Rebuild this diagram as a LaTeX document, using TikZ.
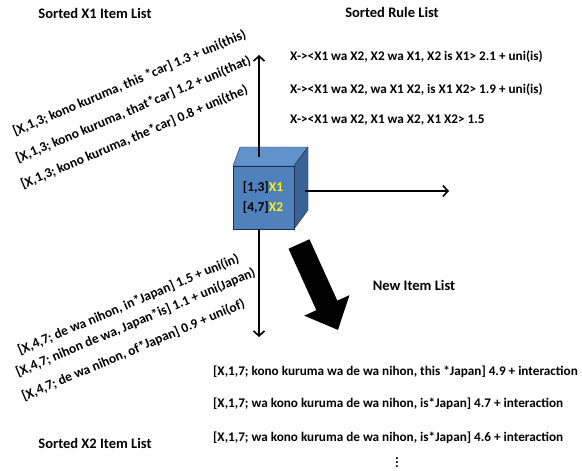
\documentclass[tikz,border=0pt]{standalone}
\usepackage{fontspec}
\setmainfont{Carlito}
\usetikzlibrary{arrows.meta}
\definecolor{cubefront}{RGB}{79,129,189}
\definecolor{cubetop}{RGB}{98,146,204}
\definecolor{cubeside}{RGB}{58,98,150}
\definecolor{cubeline}{RGB}{30,45,70}
\begin{document}
\begin{tikzpicture}[x=1pt, y=-1pt,
        heading/.style = {font=\bfseries\fontsize{14.5}{16}\selectfont},
        item/.style = {font=\bfseries\fontsize{13.2}{15}\selectfont, inner sep=0pt},
        axis/.style = {line width=1.6pt, -{Straight Barb[length=5pt, width=11pt, line width=1.6pt]}}]
                \useasboundingbox (0,0) rectangle (582,471);
                % the cube
                \draw[cubeline, fill = cubetop] (233,166) -- (240,147) -- (308,147) -- (294,166) -- cycle;
                \draw[cubeline, fill = cubeside] (294,166) -- (308,147) -- (308,210) -- (294,229) -- cycle;
                \draw[cubeline, fill = cubefront] (233,166) rectangle (294,229);
                \node[font=\bfseries\fontsize{13.5}{20}\selectfont, align=center] (cube) at (263,198)
                    {[1,3]{\color{yellow}X1}\\{[4,7]}{\color{yellow}X2}};
                % axes
                \coordinate (topface) at (259,157);
                \coordinate (bottomface) at (259,229);
                \coordinate (sideface) at (305,191);
                \coordinate (uptip) at (259,55);
                \coordinate (downtip) at (259,337);
                \coordinate (righttip) at (449,191);
                \draw[axis] (topface) -- (uptip);
                \draw[axis] (bottomface) -- (downtip);
                \draw[axis] (sideface) -- (righttip);
                \coordinate (bigtail) at (299,244);
                \coordinate (bigtip) at (338,330);
                \draw[line width=23pt, -{Triangle[length=27pt, width=48pt]}] (bigtail) -- (bigtip);
                % headings
                \node[heading] (xonehead) at (95,13) {Sorted X1 Item List};
                \node[heading] (rulehead) at (392,12) {Sorted Rule List};
                \node[heading] (newhead) at (414,285) {New Item List};
                \node[heading] (xtwohead) at (95,443) {Sorted X2 Item List};
                % X1 and X2 items
                \begin{scope}[every node/.style = {item, font=\bfseries\fontsize{13.5}{16}\selectfont, rotate=23, anchor=base west}]
                    \node (xone1) at (15,136) {[X,1,3; kono kuruma, this *car] 1.3 + uni(this)};
                    \node (xone2) at (18,163) {[X,1,3; kono kuruma, that*car] 1.2 + uni(that)};
                    \node (xone3) at (23,189) {[X,1,3; kono kuruma, the*car] 0.8 + uni(the)};
                    \node (xtwo1) at (20,355) {[X,4,7; de wa nihon, in*Japan] 1.5 + uni(in)};
                    \node (xtwo2) at (18,377) {[X,4,7; nihon de wa, Japan*is] 1.1 + uni(Japan)};
                    \node (xtwo3) at (24,401) {[X,4,7; de wa nihon, of*Japan] 0.9 + uni(of)};
                \end{scope}
                % rules
                \node[item, anchor=base west] (rule1) at (290,60) {X-><X1 wa X2, X2 wa X1, X2 is X1> 2.1 + uni(is)};
                \node[item, anchor=base west] (rule2) at (290,93) {X-><X1 wa X2, wa X1 X2, is X1 X2> 1.9 + uni(is)};
                \node[item, anchor=base west] (rule3) at (290,123) {X-><X1 wa X2, X1 wa X2, X1 X2> 1.5};
                % new items
                \node[item, anchor=base west] (new1) at (213,375) {[X,1,7; kono kuruma wa de wa nihon, this *Japan] 4.9 + interaction};
                \node[item, anchor=base west] (new2) at (213,407) {[X,1,7; wa kono kuruma de wa nihon, is*Japan] 4.7 + interaction};
                \node[item, anchor=base west] (new3) at (213,441) {[X,1,7; wa kono kuruma de wa nihon, is*Japan] 4.6 + interaction};
                \node[font=\fontsize{17}{18}\selectfont, inner sep=0pt] (more) at (397,460) {$\vdots$};
            \end{tikzpicture}
\end{document}
